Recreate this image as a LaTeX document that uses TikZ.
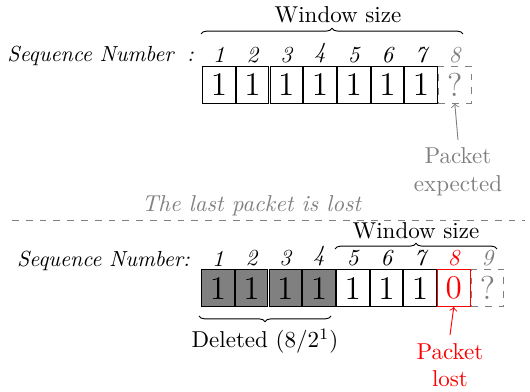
\documentclass[tikz,border=0pt]{standalone}
\usepackage{tikz}
\usetikzlibrary{decorations.pathreplacing}

\begin{document}
\begin{tikzpicture}[x=0.435pt, y=0.435pt,
  cell/.style={draw, inner sep=0pt, minimum width=14.2pt, minimum height=16.1pt, font=\Large},
  oldcell/.style={cell, fill=gray},
  lostcell/.style={cell, draw=red, text=red},
  nextcell/.style={cell, draw=gray, dashed, text=gray},
  slant/.style={font=\itshape\fontsize{9.5}{11}\selectfont},
  numlabel/.style={font=\itshape, inner sep=0.3pt, label distance=0.8pt},
  seq/.style={label={[numlabel]above:#1}},
  brace/.style={decorate, decoration={brace, amplitude=2.5pt}}]
\useasboundingbox (0,0) rectangle (530,-392);

% before the loss
\node[anchor=base east, slant] (seqA) at (202,-62) {Sequence Number\hspace{2.5pt} :};
\node[cell, seq=1] (a1) at (218.9,-84.5) {1};
\node[cell, seq=2] (a2) at (252.6,-84.5) {1};
\node[cell, seq=3] (a3) at (286.3,-84.5) {1};
\node[cell, seq=4] (a4) at (320.0,-84.5) {1};
\node[cell, seq=5] (a5) at (353.7,-84.5) {1};
\node[cell, seq=6] (a6) at (387.4,-84.5) {1};
\node[cell, seq=7] (a7) at (421.1,-84.5) {1};
\node[nextcell, label={[numlabel, text=gray]above:8}] (a8) at (454.8,-84.5) {?};

\draw[brace] (201,-34) -- (463,-34);
\node (winA) at (338,-15) {Window size};

\node[align=center, text=gray] (expA) at (458,-172) {Packet\\expected};
\draw[->, gray] (expA.north) -- (a8.south);

% separator
\draw[dashed, gray] (12,-220) -- (525,-220);
\node[anchor=base, font=\itshape, text=gray] (lostmsg) at (251.5,-212) {The last packet is lost};

% after the loss
\node[anchor=base east, slant] (seqB) at (198,-267) {Sequence Number:};
\node[oldcell, seq=1] (b1) at (217.9,-288) {1};
\node[oldcell, seq=2] (b2) at (251.6,-288) {1};
\node[oldcell, seq=3] (b3) at (285.3,-288) {1};
\node[oldcell, seq=4] (b4) at (319.0,-288) {1};
\node[cell, seq=5] (b5) at (352.7,-288) {1};
\node[cell, seq=6] (b6) at (386.4,-288) {1};
\node[cell, seq=7] (b7) at (420.1,-288) {1};
\node[lostcell, label={[numlabel, text=red]above:8}] (b8) at (453.8,-288) {0};
\node[nextcell, label={[numlabel, text=gray]above:9}] (b9) at (487.5,-288) {?};

\draw[brace] (335,-249) -- (497,-249);
\node (winB) at (416,-231) {Window size};

\draw[brace, decoration={mirror}] (199,-316) -- (331,-316);
\node (del) at (265,-341) {Deleted ($8/2^1$)};

\node[align=center, text=red] (lostB) at (450,-365) {Packet\\lost};
\draw[->, red] (lostB.north) -- (b8.south);
\end{tikzpicture}
\end{document}
